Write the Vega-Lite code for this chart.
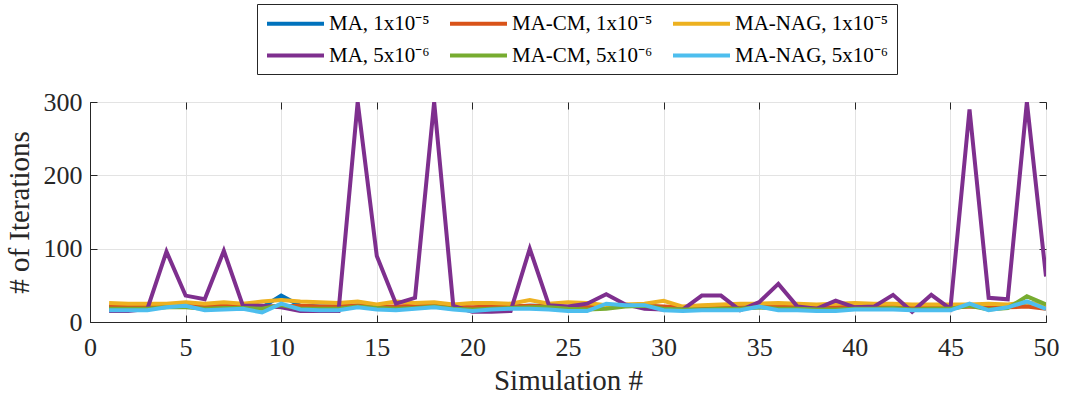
{
 "$schema": "https://vega.github.io/schema/vega-lite/v6.json",
 "width": 956, "height": 220,
 "autosize": {"type": "none"},
 "padding": {"left": 90, "top": 102, "right": 24, "bottom": 74},
 "background": "white",
 "data": {"values": [
  {"s":1,"a":20,"b":21,"c":26,"d":15,"e":18,"f":16},
  {"s":2,"a":20,"b":21,"c":25,"d":15,"e":18,"f":16},
  {"s":3,"a":19,"b":21,"c":25,"d":18,"e":18,"f":16},
  {"s":4,"a":21,"b":22,"c":25,"d":96,"e":20,"f":20},
  {"s":5,"a":22,"b":23,"c":27,"d":36,"e":20,"f":22},
  {"s":6,"a":20,"b":22,"c":25,"d":31,"e":18,"f":16},
  {"s":7,"a":21,"b":22,"c":27,"d":97,"e":19,"f":17},
  {"s":8,"a":21,"b":22,"c":25,"d":22,"e":19,"f":18},
  {"s":9,"a":20,"b":21,"c":28,"d":22,"e":18,"f":13},
  {"s":10,"a":36,"b":21,"c":30,"d":20,"e":23,"f":25},
  {"s":11,"a":22,"b":22,"c":28,"d":15,"e":18,"f":17},
  {"s":12,"a":21,"b":21,"c":27,"d":15,"e":18,"f":16},
  {"s":13,"a":21,"b":21,"c":26,"d":15,"e":18,"f":16},
  {"s":14,"a":22,"b":23,"c":28,"d":300,"e":21,"f":20},
  {"s":15,"a":21,"b":21,"c":24,"d":90,"e":19,"f":17},
  {"s":16,"a":20,"b":21,"c":28,"d":25,"e":18,"f":16},
  {"s":17,"a":21,"b":22,"c":26,"d":33,"e":19,"f":18},
  {"s":18,"a":22,"b":23,"c":27,"d":300,"e":21,"f":20},
  {"s":19,"a":20,"b":21,"c":24,"d":22,"e":18,"f":17},
  {"s":20,"a":19,"b":20,"c":26,"d":14,"e":17,"f":15},
  {"s":21,"a":20,"b":21,"c":26,"d":14,"e":18,"f":17},
  {"s":22,"a":21,"b":21,"c":25,"d":15,"e":19,"f":18},
  {"s":23,"a":22,"b":22,"c":30,"d":100,"e":20,"f":18},
  {"s":24,"a":22,"b":21,"c":25,"d":23,"e":20,"f":17},
  {"s":25,"a":20,"b":20,"c":27,"d":21,"e":18,"f":15},
  {"s":26,"a":19,"b":20,"c":26,"d":25,"e":17,"f":15},
  {"s":27,"a":20,"b":22,"c":23,"d":38,"e":18,"f":25},
  {"s":28,"a":22,"b":22,"c":24,"d":24,"e":21,"f":23},
  {"s":29,"a":22,"b":22,"c":25,"d":18,"e":22,"f":23},
  {"s":30,"a":20,"b":21,"c":29,"d":17,"e":18,"f":16},
  {"s":31,"a":18,"b":20,"c":21,"d":17,"e":17,"f":15},
  {"s":32,"a":19,"b":20,"c":23,"d":36,"e":17,"f":16},
  {"s":33,"a":19,"b":20,"c":24,"d":36,"e":18,"f":16},
  {"s":34,"a":19,"b":20,"c":25,"d":16,"e":18,"f":16},
  {"s":35,"a":20,"b":21,"c":25,"d":27,"e":20,"f":21},
  {"s":36,"a":20,"b":21,"c":26,"d":52,"e":18,"f":16},
  {"s":37,"a":19,"b":21,"c":25,"d":21,"e":18,"f":16},
  {"s":38,"a":19,"b":21,"c":24,"d":18,"e":17,"f":15},
  {"s":39,"a":19,"b":20,"c":25,"d":29,"e":17,"f":15},
  {"s":40,"a":20,"b":21,"c":26,"d":20,"e":18,"f":17},
  {"s":41,"a":20,"b":21,"c":25,"d":21,"e":18,"f":17},
  {"s":42,"a":21,"b":21,"c":25,"d":37,"e":19,"f":17},
  {"s":43,"a":19,"b":20,"c":24,"d":14,"e":17,"f":16},
  {"s":44,"a":19,"b":20,"c":24,"d":37,"e":18,"f":16},
  {"s":45,"a":19,"b":20,"c":24,"d":18,"e":18,"f":16},
  {"s":46,"a":22,"b":21,"c":24,"d":290,"e":22,"f":25},
  {"s":47,"a":19,"b":20,"c":25,"d":33,"e":17,"f":16},
  {"s":48,"a":21,"b":20,"c":24,"d":31,"e":19,"f":20},
  {"s":49,"a":27,"b":21,"c":27,"d":300,"e":35,"f":28},
  {"s":50,"a":21,"b":18,"c":22,"d":62,"e":24,"f":18}
 ]},
 "transform": [{"fold": ["a","b","c","d","e","f"], "as": ["series","iter"]}],
 "config": {
  "view": {"stroke": "#262626", "strokeWidth": 1},
  "axis": {
   "labelFont": "Liberation Serif", "labelFontSize": 26, "labelColor": "#262626", "labelFlush": false,
   "titleFont": "Liberation Serif", "titleFontSize": 29, "titleFontWeight": "normal", "titleColor": "#262626",
   "domainColor": "#262626", "tickColor": "#262626", "tickSize": -7, "tickWidth": 1,
   "gridColor": "#e3e3e3", "gridOpacity": 1
  },
  "legend": {
   "labelFont": "Liberation Serif", "labelFontSize": 21, "labelColor": "#000000"
  }
 },
 "layer": [
  {
   "mark": {"type": "line", "strokeWidth": 4, "clip": true},
   "encoding": {
    "x": {"field": "s", "type": "quantitative", "scale": {"domain": [0, 50], "nice": false},
          "axis": {"title": "Simulation #", "values": [0,5,10,15,20,25,30,35,40,45,50], "labelPadding": 19, "titlePadding": 6, "grid": true}},
    "y": {"field": "iter", "type": "quantitative", "scale": {"domain": [0, 300], "nice": false},
          "axis": {"title": "# of Iterations", "values": [0,100,200,300], "labelPadding": 15, "titlePadding": 9, "grid": true}},
    "color": {"field": "series", "type": "nominal",
     "scale": {"domain": ["a","b","c","d","e","f"], "range": ["#0072BD","#D95319","#EDB120","#7E2F8E","#77AC30","#4DBEEE"]},
     "legend": {
      "title": null, "orient": "none", "legendX": 167, "legendY": -98, "columns": 3,
      "direction": "horizontal",
      "symbolType": "M-1,0H5", "symbolSize": 361, "symbolStrokeWidth": 4,
      "labelOffset": 41, "columnPadding": 12, "rowPadding": 10, "padding": 8,
      "strokeColor": "#262626", "fillColor": "white",
      "labelExpr": "datum.label == 'a' ? 'MA, 1x10⁻⁵' : datum.label == 'b' ? 'MA-CM, 1x10⁻⁵' : datum.label == 'c' ? 'MA-NAG, 1x10⁻⁵' : datum.label == 'd' ? 'MA, 5x10⁻⁶' : datum.label == 'e' ? 'MA-CM, 5x10⁻⁶' : 'MA-NAG, 5x10⁻⁶'"
     }}
   }
  },
  {
   "mark": {"type": "line", "opacity": 0},
   "encoding": {
    "x": {"field": "s", "type": "quantitative", "scale": {"domain": [0, 50], "nice": false},
          "axis": {"orient": "top", "title": null, "labels": false, "grid": false, "domain": false, "values": [0,5,10,15,20,25,30,35,40,45,50]}},
    "y": {"field": "iter", "type": "quantitative", "scale": {"domain": [0, 300], "nice": false},
          "axis": {"orient": "right", "title": null, "labels": false, "grid": false, "domain": false, "values": [0,100,200,300]}},
    "detail": {"field": "series"}
   }
  }
 ],
 "resolve": {"axis": {"x": "independent", "y": "independent"}}
}
